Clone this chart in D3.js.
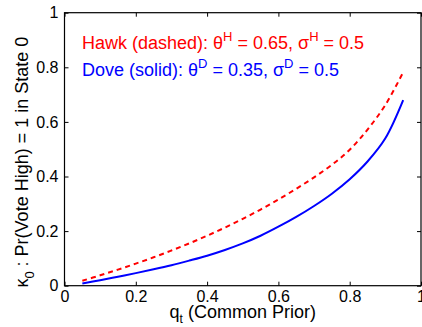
<!DOCTYPE html>
<html>
<head>
<meta charset="utf-8">
<script src="https://cdn.jsdelivr.net/npm/d3@7/dist/d3.min.js"></script>
<style>
  html, body { margin: 0; padding: 0; background: #fff; }
  svg { display: block; font-family: "Liberation Sans", Arial, Helvetica, sans-serif; }
</style>
</head>
<body>
<svg id="chart" width="422" height="327"></svg>
<script>
// Common prior q_t
const priors = [0.05, 0.10, 0.15, 0.20, 0.25, 0.30, 0.35, 0.40, 0.45, 0.50,
                0.55, 0.60, 0.65, 0.70, 0.75, 0.80, 0.85, 0.90, 0.95];
// kappa_0 for the hawk (theta = 0.65, sigma = 0.5)
const hawkKappa = [0.018, 0.038, 0.059, 0.081, 0.104, 0.129, 0.155, 0.183, 0.213, 0.245,
                   0.279, 0.316, 0.355, 0.397, 0.443, 0.498, 0.572, 0.662, 0.782];
// kappa_0 for the dove (theta = 0.35, sigma = 0.5)
const doveKappa = [0.008, 0.020, 0.033, 0.046, 0.060, 0.075, 0.092, 0.110, 0.131, 0.155,
                   0.183, 0.216, 0.252, 0.292, 0.337, 0.390, 0.455, 0.540, 0.680];
const xTicks = [0, 0.2, 0.4, 0.6, 0.8, 1];
const yTicks = [0, 0.2, 0.4, 0.6, 0.8, 1];

const svg = d3.select("#chart");
const m = { left: 64.5, right: 421, top: 12.7, bottom: 285.7 };

const x = d3.scaleLinear().domain([0, 1]).range([m.left, m.right]);
const y = d3.scaleLinear().domain([0, 1]).range([m.bottom, m.top]);

const fmt = d => (d === 0 || d === 1) ? String(d) : d3.format(".1f")(d);
const tickLen = 4;

// axes: ticks point inward, labels outside
const xAxis = svg.append("g").attr("transform", `translate(0,${m.bottom})`)
  .call(d3.axisBottom(x).tickValues(xTicks).tickFormat(fmt).tickSize(-tickLen).tickPadding(5));
const xAxisTop = svg.append("g").attr("transform", `translate(0,${m.top})`)
  .call(d3.axisTop(x).tickValues(xTicks).tickFormat("").tickSize(-tickLen));
const yAxis = svg.append("g").attr("transform", `translate(${m.left},0)`)
  .call(d3.axisLeft(y).tickValues(yTicks).tickFormat(fmt).tickSize(-tickLen).tickPadding(6));
const yAxisRight = svg.append("g").attr("transform", `translate(${m.right},0)`)
  .call(d3.axisRight(y).tickValues(yTicks).tickFormat("").tickSize(-tickLen));

[xAxis, xAxisTop, yAxis, yAxisRight].forEach(g => {
  g.select(".domain").remove();
  g.selectAll(".tick line").attr("stroke", "#000").attr("stroke-width", 1);
  g.selectAll(".tick text").attr("fill", "#000").style("font-size", "16px");
});

// plot box
svg.append("rect")
  .attr("x", m.left).attr("y", m.top)
  .attr("width", m.right - m.left).attr("height", m.bottom - m.top)
  .attr("fill", "none").attr("stroke", "#000").attr("stroke-width", 1.2);

const line = d3.line()
  .x(d => x(d[0]))
  .y(d => y(d[1]))
  .curve(d3.curveCatmullRom.alpha(0.5));

svg.append("path")
  .datum(priors.map((q, i) => [q, doveKappa[i]]))
  .attr("d", line)
  .attr("fill", "none").attr("stroke", "#0000ff").attr("stroke-width", 2);

svg.append("path")
  .datum(priors.map((q, i) => [q, hawkKappa[i]]))
  .attr("d", line)
  .attr("fill", "none").attr("stroke", "#ff0000").attr("stroke-width", 2)
  .attr("stroke-dasharray", "5,4");

// legend text with superscripts
function legendLine(yPos, color, parts) {
  const t = svg.append("text").attr("x", 82).attr("y", yPos)
    .attr("fill", color).style("font-size", "18px");
  parts.forEach(p => {
    const s = t.append("tspan").text(p.t);
    if (p.sup) s.attr("dy", -8).style("font-size", "13px");
    if (p.back) s.attr("dy", 8);
  });
}
legendLine(49, "#ff0000", [
  { t: "Hawk (dashed): θ" }, { t: "H", sup: true }, { t: " = 0.65, σ", back: true },
  { t: "H", sup: true }, { t: " = 0.5", back: true }
]);
legendLine(76, "#0000ff", [
  { t: "Dove (solid): θ" }, { t: "D", sup: true }, { t: " = 0.35, σ", back: true },
  { t: "D", sup: true }, { t: " = 0.5", back: true }
]);

// x label
const xl = svg.append("text")
  .attr("x", (m.left + m.right) / 2).attr("y", 318)
  .attr("text-anchor", "middle").style("font-size", "18px").attr("fill", "#000");
xl.append("tspan").text("q");
xl.append("tspan").text("t").attr("dy", 5).style("font-size", "12px");
xl.append("tspan").text(" (Common Prior)").attr("dy", -5);

// y label
const yl = svg.append("text")
  .attr("transform", `translate(28,${(m.top + m.bottom) / 2 + 13}) rotate(-90)`)
  .attr("text-anchor", "middle").style("font-size", "18px").attr("fill", "#000");
yl.append("tspan").text("κ");
yl.append("tspan").text("0").attr("dy", 6).style("font-size", "13px");
yl.append("tspan").text(" : Pr(Vote High) = 1 in State 0").attr("dy", -6);
</script>
</body>
</html>
